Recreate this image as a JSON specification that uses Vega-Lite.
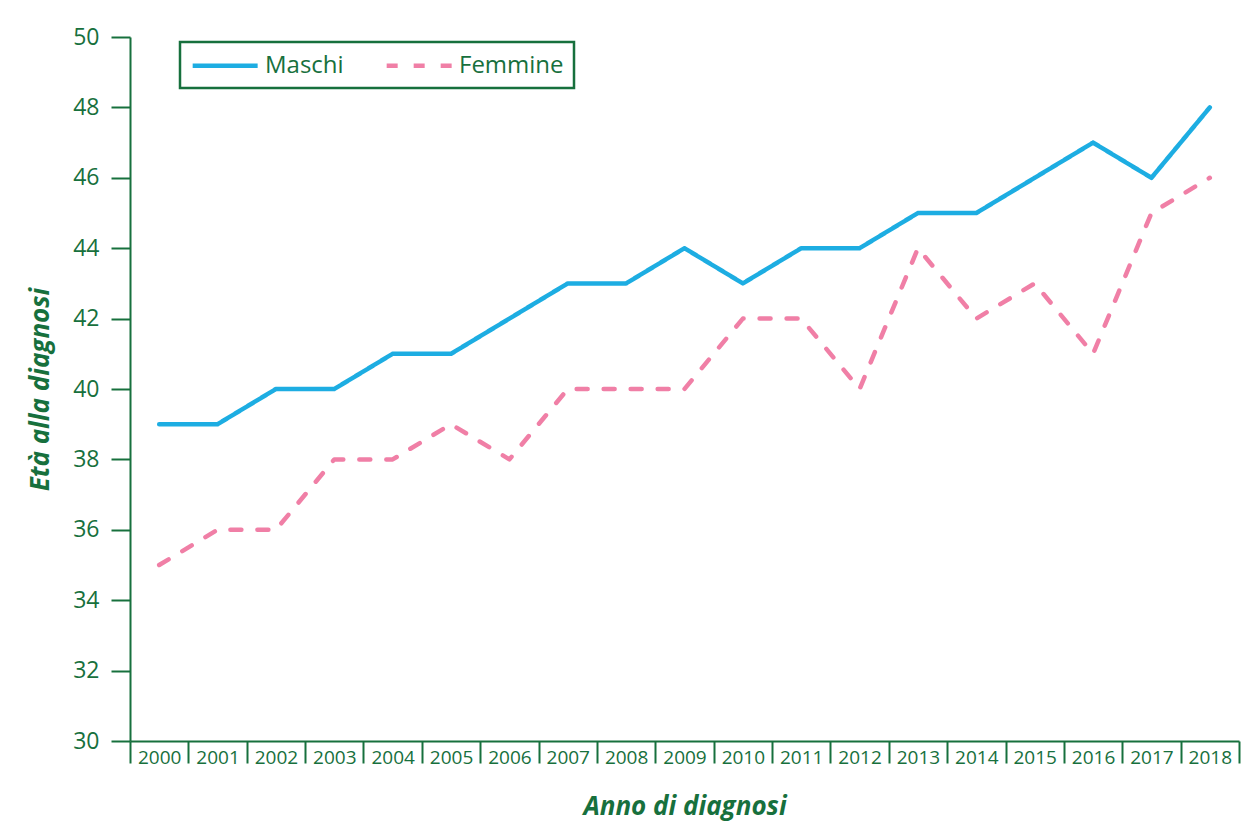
{
  "$schema": "https://vega.github.io/schema/vega-lite/v6.json",
  "width": 1109,
  "height": 704,
  "autosize": {"type": "none"},
  "padding": {"left": 130, "top": 37, "right": 13, "bottom": 92},
  "background": "white",
  "config": {
    "font": "Open Sans",
    "view": {"stroke": null},
    "axis": {"grid": false, "domainColor": "#17703d", "tickColor": "#17703d", "labelColor": "#17703d", "titleColor": "#17703d", "domainWidth": 2, "tickWidth": 2}
  },
  "data": {"values": [
    {"anno": "2000", "sesso": "Maschi", "eta": 39}, {"anno": "2001", "sesso": "Maschi", "eta": 39},
    {"anno": "2002", "sesso": "Maschi", "eta": 40}, {"anno": "2003", "sesso": "Maschi", "eta": 40},
    {"anno": "2004", "sesso": "Maschi", "eta": 41}, {"anno": "2005", "sesso": "Maschi", "eta": 41},
    {"anno": "2006", "sesso": "Maschi", "eta": 42}, {"anno": "2007", "sesso": "Maschi", "eta": 43},
    {"anno": "2008", "sesso": "Maschi", "eta": 43}, {"anno": "2009", "sesso": "Maschi", "eta": 44},
    {"anno": "2010", "sesso": "Maschi", "eta": 43}, {"anno": "2011", "sesso": "Maschi", "eta": 44},
    {"anno": "2012", "sesso": "Maschi", "eta": 44}, {"anno": "2013", "sesso": "Maschi", "eta": 45},
    {"anno": "2014", "sesso": "Maschi", "eta": 45}, {"anno": "2015", "sesso": "Maschi", "eta": 46},
    {"anno": "2016", "sesso": "Maschi", "eta": 47}, {"anno": "2017", "sesso": "Maschi", "eta": 46},
    {"anno": "2018", "sesso": "Maschi", "eta": 48},
    {"anno": "2000", "sesso": "Femmine", "eta": 35}, {"anno": "2001", "sesso": "Femmine", "eta": 36},
    {"anno": "2002", "sesso": "Femmine", "eta": 36}, {"anno": "2003", "sesso": "Femmine", "eta": 38},
    {"anno": "2004", "sesso": "Femmine", "eta": 38}, {"anno": "2005", "sesso": "Femmine", "eta": 39},
    {"anno": "2006", "sesso": "Femmine", "eta": 38}, {"anno": "2007", "sesso": "Femmine", "eta": 40},
    {"anno": "2008", "sesso": "Femmine", "eta": 40}, {"anno": "2009", "sesso": "Femmine", "eta": 40},
    {"anno": "2010", "sesso": "Femmine", "eta": 42}, {"anno": "2011", "sesso": "Femmine", "eta": 42},
    {"anno": "2012", "sesso": "Femmine", "eta": 40}, {"anno": "2013", "sesso": "Femmine", "eta": 44},
    {"anno": "2014", "sesso": "Femmine", "eta": 42}, {"anno": "2015", "sesso": "Femmine", "eta": 43},
    {"anno": "2016", "sesso": "Femmine", "eta": 41}, {"anno": "2017", "sesso": "Femmine", "eta": 45},
    {"anno": "2018", "sesso": "Femmine", "eta": 46}
  ]},
  "mark": {"type": "line", "strokeWidth": 4.5, "strokeCap": "round", "strokeJoin": "round"},
  "encoding": {
    "x": {
      "field": "anno", "type": "ordinal",
      "scale": {"type": "band", "paddingInner": 0, "paddingOuter": 0},
      "axis": {
        "title": "Anno di diagnosi", "titleFontSize": 26, "titleFontWeight": "bold", "titleFontStyle": "italic", "titlePadding": 26,
        "labelAngle": 0, "labelFontSize": 19, "labelPadding": -15,
        "tickBand": "extent", "tickSize": 22
      }
    },
    "y": {
      "field": "eta", "type": "quantitative",
      "scale": {"domain": [30, 50], "nice": false, "zero": false},
      "axis": {
        "title": "Età alla diagnosi", "titleFontSize": 26, "titleFontWeight": "bold", "titleFontStyle": "italic", "titlePadding": 19,
        "values": [30, 32, 34, 36, 38, 40, 42, 44, 46, 48, 50],
        "labelFontSize": 23, "labelPadding": 12, "tickSize": 19
      }
    },
    "color": {
      "field": "sesso", "type": "nominal",
      "scale": {"domain": ["Maschi", "Femmine"], "range": ["#1dade2", "#f07fa6"]},
      "legend": {
        "title": null, "orient": "none", "legendX": 50, "legendY": 5, "direction": "horizontal",
        "strokeColor": "#17703d", "padding": 10, "labelFontSize": 24, "labelColor": "#17703d",
        "symbolType": "M-1,0H5", "symbolSize": 469, "symbolStrokeWidth": 4.5, "labelOffset": 48, "columnPadding": 33,
        "encode": {"legend": {"update": {"strokeWidth": {"value": 2.5}}}}
      }
    },
    "strokeDash": {
      "field": "sesso", "type": "nominal",
      "scale": {"domain": ["Maschi", "Femmine"], "range": [[1, 0], [11, 16]]},
      "legend": {
        "title": null, "orient": "none", "legendX": 50, "legendY": 5, "direction": "horizontal",
        "strokeColor": "#17703d", "padding": 10, "labelFontSize": 24, "labelColor": "#17703d",
        "symbolType": "M-1,0H5", "symbolSize": 469, "symbolStrokeWidth": 4.5, "labelOffset": 48, "columnPadding": 33,
        "encode": {"legend": {"update": {"strokeWidth": {"value": 2.5}}}}
      }
    }
  }
}
